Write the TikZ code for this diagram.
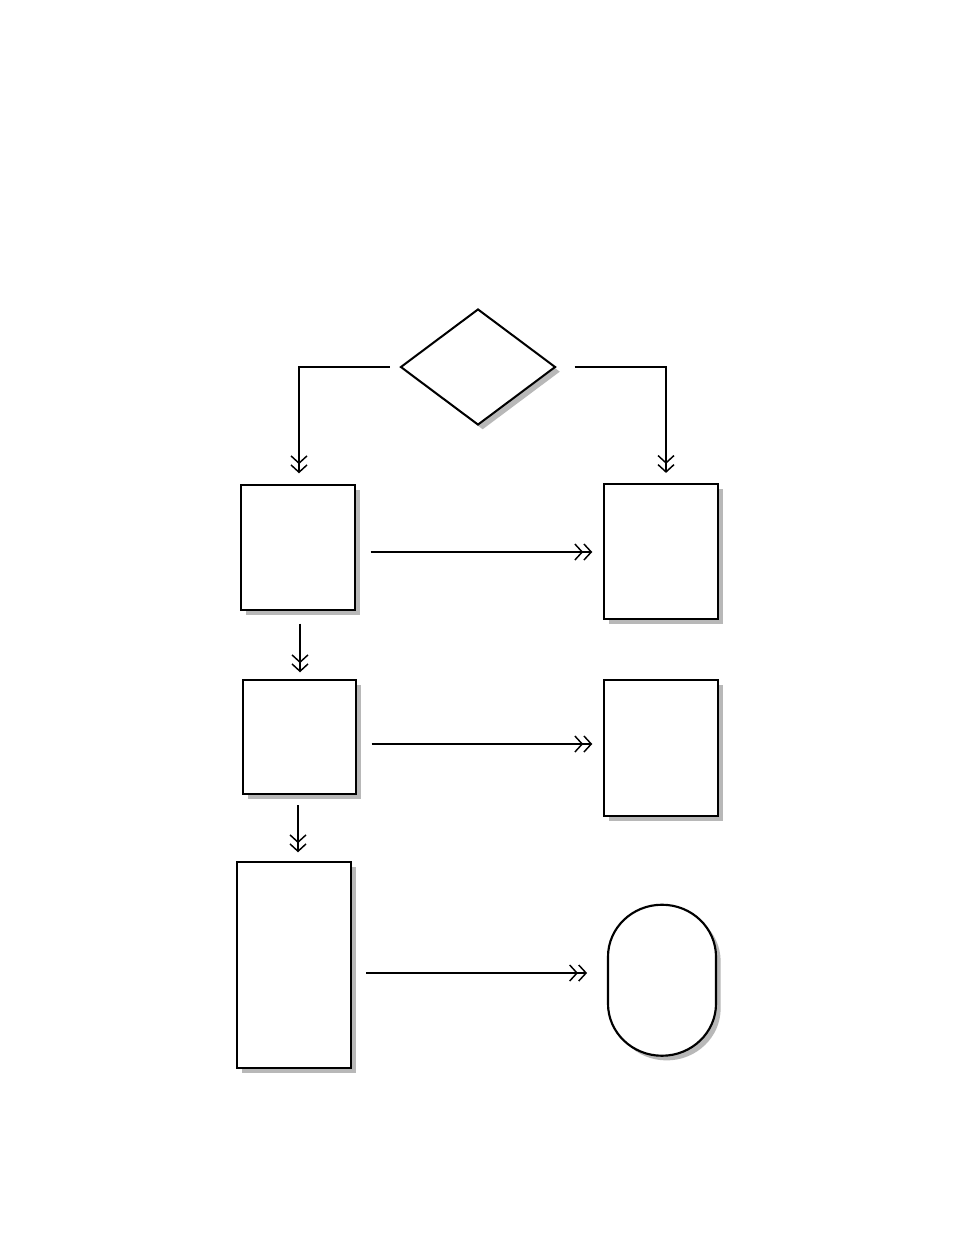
\documentclass[tikz,border=0pt]{standalone}
\usetikzlibrary{arrows.meta,shapes.geometric,shadows}
\begin{document}
\begin{tikzpicture}[x=0.75pt,y=-0.75pt,
  shd/.style={drop shadow={shadow xshift=3.5pt,shadow yshift=-3.5pt,fill=black!28,opacity=1}},
  boxnode/.style={draw,line width=1.6pt,fill=white,shd,rectangle,inner sep=0pt},
  decnode/.style={draw,line width=1.5pt,fill=white,shd,diamond,inner sep=0pt},
  arr/.style={line width=1.4pt,-{Straight Barb[length=5.5pt,width=12pt,line width=1.1pt] Straight Barb[length=5.5pt,width=12pt,line width=1.1pt]}}
]
\useasboundingbox (0,0) rectangle (954,1235);
\fill[white] (0,0) rectangle (954,1235);
\node[decnode,minimum width=116.25pt,minimum height=87pt] (D0) at (478,367) {};
\node[boxnode,minimum width=85.5pt,minimum height=93.75pt] (A) at (298,547.5) {};
\node[boxnode,minimum width=85.5pt,minimum height=101.25pt] (B) at (661,551.5) {};
\node[boxnode,minimum width=84.75pt,minimum height=85.5pt] (C) at (299.5,737) {};
\node[boxnode,minimum width=85.5pt,minimum height=102pt] (D) at (661,748) {};
\node[boxnode,minimum width=85.5pt,minimum height=154.5pt] (E) at (294,965) {};
% oval with elliptical ends
\node[inner sep=0pt,minimum width=81pt,minimum height=113.25pt] (O) at (662,980.5) {};
\fill[black!28] ([xshift=3.5pt,yshift=-3.5pt]O.north) arc[start angle=-90,end angle=0,x radius=54,y radius=52]
  -- ++(0,47) arc[start angle=0,end angle=180,x radius=54,y radius=52]
  -- ++(0,-47) arc[start angle=180,end angle=270,x radius=54,y radius=52] -- cycle;
\draw[line width=1.6pt,fill=white] (O.north) arc[start angle=-90,end angle=0,x radius=54,y radius=52]
  -- ++(0,47) arc[start angle=0,end angle=180,x radius=54,y radius=52]
  -- ++(0,-47) arc[start angle=180,end angle=270,x radius=54,y radius=52] -- cycle;
% connectors
\draw[arr,shorten <=7.5pt,shorten >=8pt] (D0.west) -| ([xshift=0.75pt]A.north);
\draw[arr,shorten <=13.5pt,shorten >=7.5pt] (D0.east) -| ([xshift=3.75pt]B.north);
\draw[arr,shorten <=11pt,shorten >=8pt] (A.east |- 0,552) -- (B.west |- 0,552);
\draw[arr,shorten <=9.5pt,shorten >=5pt] (A.south -| 300,0) -- (C.north -| 300,0);
\draw[arr,shorten <=11pt,shorten >=8pt] (C.east |- 0,744) -- (D.west |- 0,744);
\draw[arr,shorten <=7.5pt,shorten >=6.5pt] (C.south -| 298,0) -- (E.north -| 298,0);
\draw[arr,shorten <=10.5pt,shorten >=15.5pt] (E.east |- 0,973) -- (O.west |- 0,973);
\end{tikzpicture}
\end{document}
